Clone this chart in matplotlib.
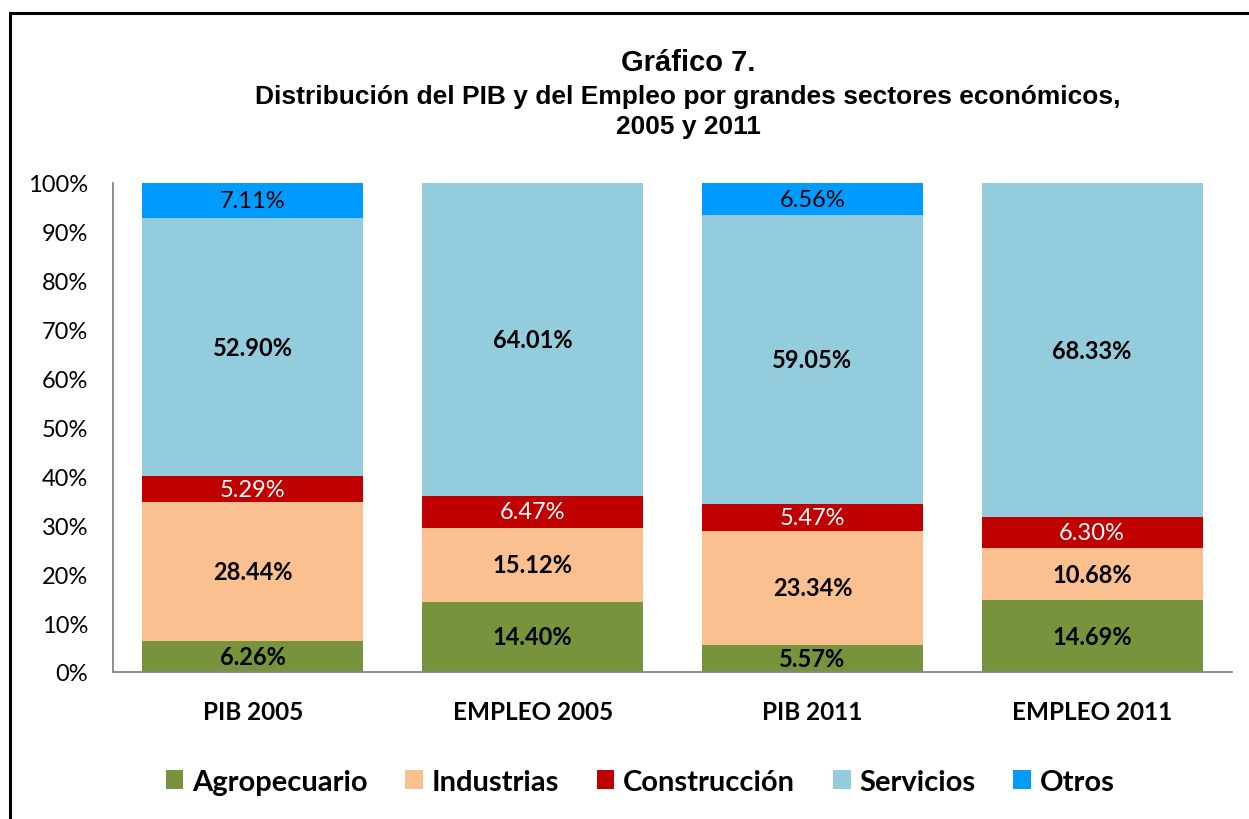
import matplotlib
matplotlib.use("Agg")
import matplotlib.pyplot as plt
from matplotlib.patches import Rectangle, Patch
import numpy as np

categories = ["PIB 2005", "EMPLEO 2005", "PIB 2011", "EMPLEO 2011"]
series_names = ["Agropecuario", "Industrias", "Construcción", "Servicios", "Otros"]
agropecuario = [6.26, 14.40, 5.57, 14.69]
industrias = [28.44, 15.12, 23.34, 10.68]
construccion = [5.29, 6.47, 5.47, 6.30]
servicios = [52.90, 64.01, 59.05, 68.33]
otros = [7.11, 0.0, 6.56, 0.0]
yticks = [0, 10, 20, 30, 40, 50, 60, 70, 80, 90, 100]

colors = ["#77933C", "#FAC090", "#C00000", "#93CDDD", "#009BFF"]
label_colors = ["black", "black", "white", "black", "black"]
label_weights = ["bold", "bold", "normal", "bold", "normal"]

FONT = "Lato"
TFONT = "Liberation Sans"

fig = plt.figure(figsize=(12.49, 8.2), dpi=100)
ax = fig.add_axes([113/1249, 1-673/820, (1232-113)/1249, (673-184)/820])

x = np.arange(len(categories))
bottom = np.zeros(len(categories))
data = [agropecuario, industrias, construccion, servicios, otros]
for i, vals in enumerate(data):
    vals = np.array(vals)
    ax.bar(x, vals, 0.79, bottom=bottom, color=colors[i], edgecolor="none", zorder=2)
    for j, v in enumerate(vals):
        if v > 0:
            ax.text(x[j], bottom[j] + v/2, f"{v:.2f}%", ha="center", va="center",
                    color=label_colors[i], fontweight=label_weights[i],
                    fontsize=17, family=FONT, zorder=3)
    bottom += vals

ax.set_xlim(-0.5, len(categories) - 0.5)
ax.set_ylim(0, 100)
ax.set_yticks(yticks)
ax.set_yticklabels([f"{t}%" for t in yticks], family=FONT, fontsize=17)
ax.set_xticks(x)
ax.set_xticklabels(categories, family=FONT, fontsize=17.5, fontweight="bold")
ax.tick_params(axis="y", length=0, pad=18)
ax.tick_params(axis="x", length=0, pad=20)
for s in ["top", "right"]:
    ax.spines[s].set_visible(False)
for s in ["left", "bottom"]:
    ax.spines[s].set_color("#868686")
    ax.spines[s].set_linewidth(1.3)

fig.text(688/1249, 1-63/820, "Gráfico 7.", ha="center", va="center",
         fontsize=21, fontweight="bold", family=TFONT)
fig.text(688/1249, 1-97/820, "Distribución del PIB y del Empleo por grandes sectores económicos,",
         ha="center", va="center", fontsize=19, fontweight="bold", family=TFONT)
fig.text(688/1249, 1-127/820, "2005 y 2011", ha="center", va="center",
         fontsize=19, fontweight="bold", family=TFONT)

handles = [Patch(facecolor=c, edgecolor="none") for c in colors]
leg = fig.legend(handles, series_names, loc="center", bbox_to_anchor=(640/1249, 1-783/820),
                 ncol=5, frameon=False, prop={"family": FONT, "size": 21, "weight": "bold"},
                 handlelength=0.6, handleheight=0.6, handletextpad=0.3, columnspacing=1.3)

fig.patches.append(Rectangle((10/1249, -0.2), 1.5, 1 + 0.2 - 14/820, transform=fig.transFigure,
                             fill=False, edgecolor="black", linewidth=2.2, clip_on=False))

fig.savefig("out.png", dpi=100)
